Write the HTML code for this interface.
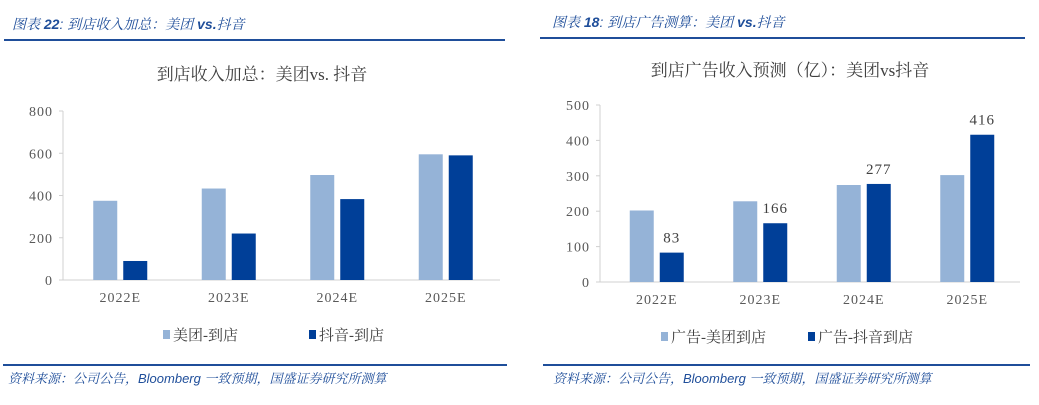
<!DOCTYPE html>
<html><head><meta charset="utf-8"><style>
body{margin:0;width:1039px;height:405px;background:#fff;overflow:hidden;position:relative;font-family:"Liberation Serif","Noto Serif CJK SC",serif}
.hdr{position:absolute;font-style:italic;color:#1f4e9a;font-size:14px;font-family:"Liberation Sans","Noto Serif CJK SC",sans-serif}
.line{position:absolute;height:2px;background:#1f4e9a}
.src{position:absolute;font-style:italic;color:#1f4e9a;font-size:13px;font-family:"Liberation Sans","Noto Serif CJK SC",sans-serif}
svg{position:absolute;left:0;top:0}
</style></head><body>
<div class="hdr" style="left:12px;top:14px">图表 <b>22</b>: 到店收入加总：美团 <b>vs.</b>抖音</div>
<div class="line" style="left:4px;top:39px;width:501px"></div>
<div class="hdr" style="left:552px;top:12px">图表 <b>18</b>: 到店广告测算：美团 <b>vs.</b>抖音</div>
<div class="line" style="left:540px;top:37px;width:485px"></div>
<div class="line" style="left:3px;top:364px;width:504px"></div>
<div class="line" style="left:543px;top:364px;width:487px"></div>
<div class="src" style="left:8px;top:368px">资料来源：公司公告，Bloomberg 一致预期，国盛证券研究所测算</div>
<div class="src" style="left:553px;top:368px">资料来源：公司公告，Bloomberg 一致预期，国盛证券研究所测算</div>
<svg id="s" width="1039" height="405" xmlns="http://www.w3.org/2000/svg"></svg>
<script>
const categories=["2022E","2023E","2024E","2025E"];
const leftMeituan=[375,433,497,595];
const leftDouyin=[90,220,383,590];
const leftTicks=[0,200,400,600,800];
const rightMeituan=[202,228,274,302];
const rightDouyin=[83,166,277,416];
const rightTicks=[0,100,200,300,400,500];
const NS="http://www.w3.org/2000/svg";
const svg=document.getElementById('s');
function el(t,a,txt){const e=document.createElementNS(NS,t);for(const k in a)e.setAttribute(k,a[k]);if(txt!==undefined)e.textContent=txt;svg.appendChild(e);return e;}
function chart(o){
 const y=v=>o.y0-(v/o.max)*(o.y0-o.yTop);
 const x=i=>o.g0+o.gw*(i+0.5);
 const t=el('text',{x:o.tx,y:o.ty,'text-anchor':'middle','font-size':17,fill:'#404040'},o.title);
 
 
 const ax=el('line',{x1:o.x0,y1:o.yTop,x2:o.x0,y2:o.y0,stroke:'#d0d0d0'});
 
 
 const bx=el('line',{x1:o.x0-4,y1:o.y0,x2:o.x1,y2:o.y0,stroke:'#d0d0d0'});
 
 
 o.ticks.forEach(v=>{
  el('line',{x1:o.x0-4,y1:y(v),x2:o.x0,y2:y(v),stroke:'#d0d0d0'});
  const tl=el('text',{x:o.x0-10,y:y(v)+5,'text-anchor':'end','font-size':14,fill:'#595959','letter-spacing':'1'},v);
  
  
 });
 categories.forEach((c,i)=>{
  const cx=x(i);
  const b1=el('rect',{x:cx-27,y:y(o.a[i]),width:24,height:o.y0-y(o.a[i]),fill:'#95b3d7'});
  
  
  const b2=el('rect',{x:cx+3,y:y(o.b[i]),width:24,height:o.y0-y(o.b[i]),fill:'#003f98'});
  
  
  if(o.labels){const l=el('text',{x:cx+15,y:y(o.b[i])-10,'text-anchor':'middle','font-size':15,fill:'#404040','letter-spacing':'1'},o.b[i]);
   
   }
  const cl=el('text',{x:cx,y:o.y0+22,'text-anchor':'middle','font-size':14,fill:'#595959','letter-spacing':'1'},c);
  
  
 });
 o.leg.forEach((g,i)=>{
  const r=el('rect',{x:g[0],y:o.ly-10,width:7,height:9,fill:i?'#003f98':'#95b3d7'});
  
  
  const lt=el('text',{x:g[0]+10,y:o.ly,'font-size':15,fill:'#404040'},g[1]);
  
  
 });
}
chart({p:'left',title:'到店收入加总：美团vs. 抖音',tx:262,ty:80,x0:63,g0:66,x1:500,gw:108.5,y0:280,yTop:111,max:800,ticks:leftTicks,a:leftMeituan,b:leftDouyin,labels:false,ly:340,leg:[[163,'美团-到店'],[309,'抖音-到店']]});
chart({p:'right',title:'到店广告收入预测（亿）：美团vs抖音',tx:790,ty:76,x0:600,g0:605,x1:1020,gw:103.5,y0:282,yTop:105,max:500,ticks:rightTicks,a:rightMeituan,b:rightDouyin,labels:true,ly:342,leg:[[661,'广告-美团到店'],[808,'广告-抖音到店']]});
</script>
</body></html>
